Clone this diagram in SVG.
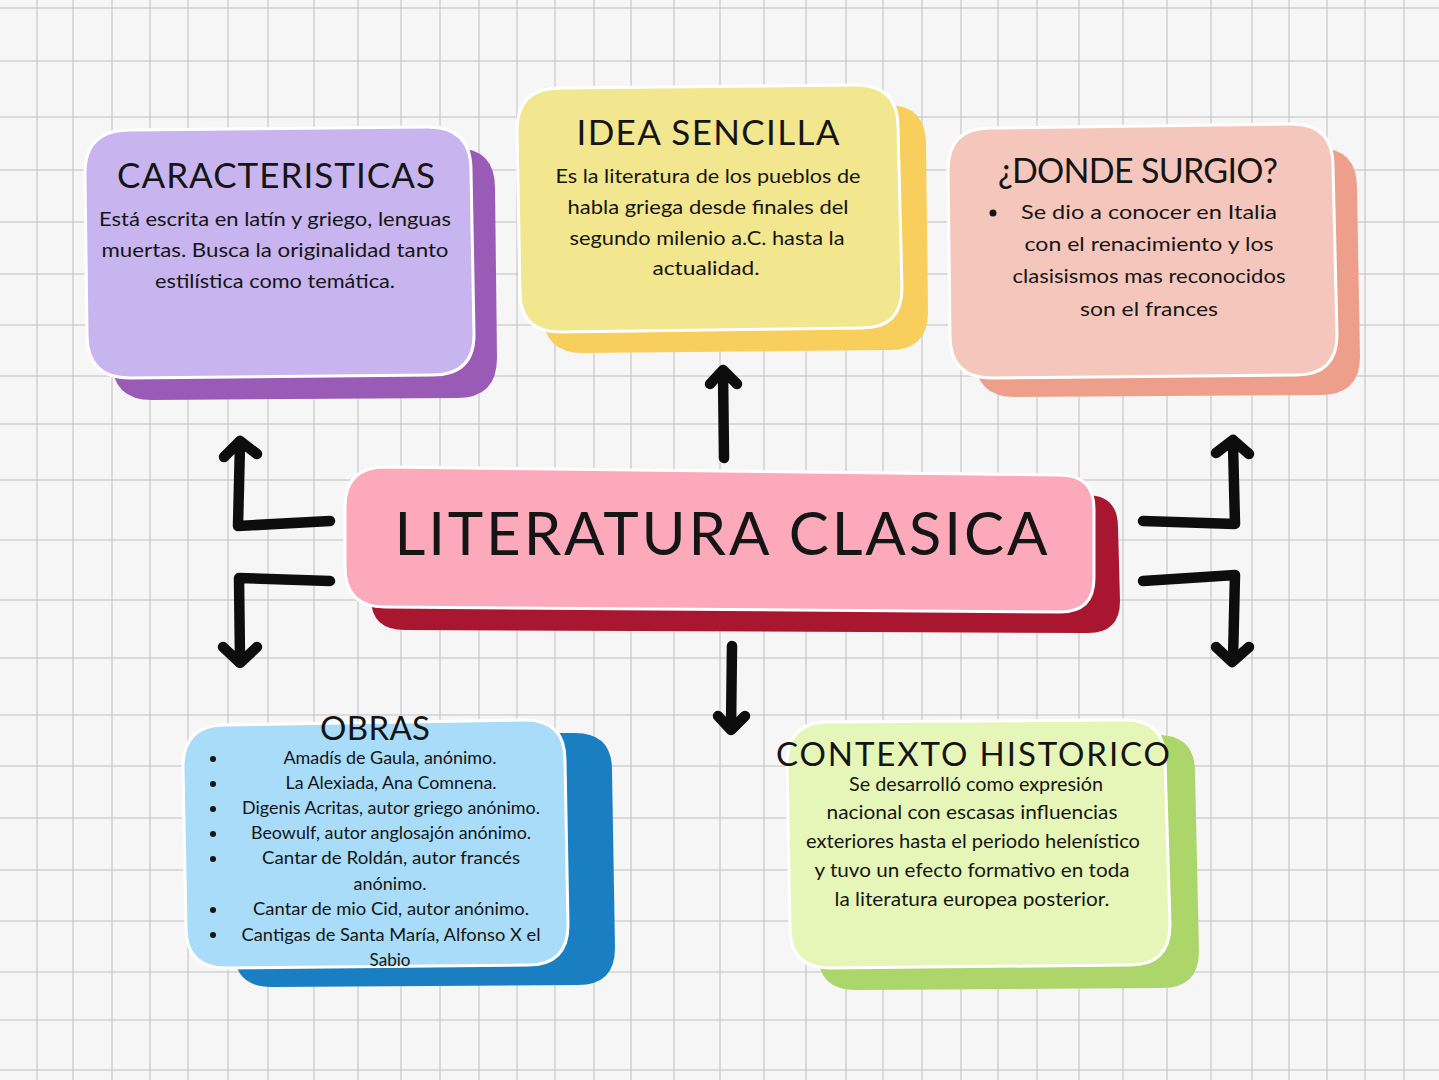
<svg xmlns="http://www.w3.org/2000/svg" width="1439" height="1080" viewBox="0 0 1439 1080">
<defs>
<style>
.grid{stroke:#c8c8c8;stroke-width:1.2;fill:none}
.front{stroke:#ffffff;stroke-width:3}
.head{font-family:"Lato","Open Sans",sans-serif;font-weight:400;fill:#151515;text-anchor:middle}
.body{font-family:"Lato","Open Sans",sans-serif;font-size:19px;fill:#151515;text-anchor:middle}
.obras{font-family:"Lato","Open Sans",sans-serif;font-size:16.5px;fill:#151515;text-anchor:middle}
.arrow{fill:none;stroke:#0d0d0d;stroke-width:10.5;stroke-linecap:round;stroke-linejoin:round}
</style>
</defs>
<rect width="1439" height="1080" fill="#f6f6f6"/>
<path class="grid" d="M37 0V1080M73 0V1080M112 0V1080M150 0V1080M188 0V1080M228 0V1080M268 0V1080M314 0V1080M358 0V1080M401 0V1080M440 0V1080M479 0V1080M517 0V1080M555 0V1080M594 0V1080M631 0V1080M674 0V1080M720 0V1080M764 0V1080M806 0V1080M846 0V1080M883 0V1080M922 0V1080M961 0V1080M998 0V1080M1037 0V1080M1079 0V1080M1123 0V1080M1167 0V1080M1211 0V1080M1252 0V1080M1289 0V1080M1327 0V1080M1365 0V1080M1404 0V1080"/>
<path class="grid" d="M0 8H1439M0 61H1439M0 117H1439M0 170H1439M0 222H1439M0 274H1439M0 325H1439M0 376H1439M0 424H1439M0 480H1439M0 540H1439M0 600H1439M0 658H1439M0 715H1439M0 766H1439M0 818H1439M0 870H1439M0 921H1439M0 972H1439M0 1020H1439M0 1070H1439" style="stroke:#c0c0c0"/>

<g id="connectors">
<path class="arrow" d="M724 458 L723 372 M710 384 L723 370 L737 384"/>
<path class="arrow" d="M732 646 L731 728 M718 716 L731 730 L745 716"/>
<path class="arrow" d="M330 521 L238 526 L240 444 M224 457 L240 441 L257 454"/>
<path class="arrow" d="M330 581 L239 578 L240 660 M223 647 L240 663 L257 647"/>
<path class="arrow" d="M1143 521 L1235 524 L1233 444 M1216 453 L1233 440 L1249 454"/>
<path class="arrow" d="M1143 581 L1235 575 L1233 659 M1216 647 L1232 662 L1249 647"/>
</g>

<g id="caracteristicas">
<path fill="#9a5bb7" d="M150 150 L455 148 Q495 148 495 188 L497 358 Q497 398 457 398 L152 400 Q112 400 112 360 L110 190 Q110 150 150 150 Z"/>
<path class="front" fill="#c8b4ee" d="M130 130 L428 127 Q471 127 471 170 L474 335 Q474 375 432 375 L130 378 Q87 378 87 335 L85 173 Q85 130 130 130 Z"/>
<text class="head" x="276" y="188" font-size="35" textLength="318" lengthAdjust="spacing">CARACTERISTICAS</text>
<text class="body" x="275" y="226" textLength="352" lengthAdjust="spacingAndGlyphs">Está escrita en latín y griego, lenguas</text>
<text class="body" x="275" y="257" textLength="347" lengthAdjust="spacingAndGlyphs">muertas. Busca la originalidad tanto</text>
<text class="body" x="275" y="288" textLength="240" lengthAdjust="spacingAndGlyphs">estilística como temática.</text>
</g>

<g id="idea-sencilla">
<path fill="#f8cf5c" d="M585 110 L888 105 Q926 105 926 145 L928 312 Q928 350 890 350 L583 353 Q543 353 543 313 L545 150 Q545 110 585 110 Z"/>
<path class="front" fill="#f2e68e" d="M560 88 L856 85 Q898 85 898 127 L902 288 Q902 328 862 328 L560 332 Q520 332 520 292 L517 130 Q517 88 560 88 Z"/>
<text class="head" x="708" y="145" font-size="35" textLength="263" lengthAdjust="spacing">IDEA SENCILLA</text>
<text class="body" x="708" y="183" textLength="305" lengthAdjust="spacingAndGlyphs">Es la literatura de los pueblos de</text>
<text class="body" x="708" y="214" textLength="281" lengthAdjust="spacingAndGlyphs">habla griega desde finales del</text>
<text class="body" x="707" y="245" textLength="275" lengthAdjust="spacingAndGlyphs">segundo milenio a.C. hasta la</text>
<text class="body" x="706" y="275" textLength="107" lengthAdjust="spacingAndGlyphs">actualidad.</text>
</g>

<g id="donde-surgio">
<path fill="#ee9f8c" d="M1015 150 L1318 148 Q1357 148 1357 188 L1360 357 Q1360 395 1320 395 L1015 397 Q975 397 975 357 L975 190 Q975 150 1015 150 Z"/>
<path class="front" fill="#f5c7bc" d="M990 128 L1292 124 Q1333 124 1333 166 L1337 335 Q1337 375 1296 375 L992 378 Q950 378 950 336 L948 170 Q948 128 990 128 Z"/>
<text class="head" x="1138" y="183" font-size="34" textLength="280" lengthAdjust="spacing">¿DONDE SURGIO?</text>
<circle cx="993" cy="213" r="3.5" fill="#151515"/>
<text class="body" x="1149" y="219" textLength="256" lengthAdjust="spacingAndGlyphs">Se dio a conocer en Italia</text>
<text class="body" x="1149" y="251" textLength="249" lengthAdjust="spacingAndGlyphs">con el renacimiento y los</text>
<text class="body" x="1149" y="283" textLength="273" lengthAdjust="spacingAndGlyphs">clasisismos mas reconocidos</text>
<text class="body" x="1149" y="316" textLength="138" lengthAdjust="spacingAndGlyphs">son el frances</text>
</g>

<g id="literatura-clasica">
<path fill="#a8172f" d="M406 495 L1086 495 Q1118 495 1118 527 L1120 601 Q1120 633 1088 633 L405 630 Q371 630 371 598 L371 527 Q371 495 406 495 Z"/>
<path class="front" fill="#fca9bb" d="M385 467 L1060 475 Q1094 475 1094 509 L1094 578 Q1094 612 1060 612 L385 607 Q345 607 345 567 L345 507 Q345 467 385 467 Z"/>
<text class="head" x="721" y="555" font-size="60" textLength="653" lengthAdjust="spacing">LITERATURA CLASICA</text>
</g>

<g id="obras">
<path fill="#1a7fc2" d="M272 733 L575 733 Q612 733 612 770 L615 948 Q615 985 578 985 L272 987 Q234 987 234 950 L232 770 Q232 733 272 733 Z"/>
<path class="front" fill="#a8dcf8" d="M225 725 L525 720 Q565 720 565 760 L568 925 Q568 965 528 965 L226 968 Q186 968 186 928 L183 767 Q183 725 225 725 Z"/>
<text class="head" x="375" y="740" font-size="33" textLength="110" lengthAdjust="spacing">OBRAS</text>
<g fill="#151515">
<circle cx="213" cy="759" r="3"/><circle cx="213" cy="784" r="3"/><circle cx="213" cy="809" r="3"/><circle cx="213" cy="834" r="3"/><circle cx="213" cy="859" r="3"/><circle cx="213" cy="910" r="3"/><circle cx="213" cy="935" r="3"/>
</g>
<text class="obras" x="390" y="764" textLength="213" lengthAdjust="spacingAndGlyphs">Amadís de Gaula, anónimo.</text>
<text class="obras" x="391" y="789" textLength="211" lengthAdjust="spacingAndGlyphs">La Alexiada, Ana Comnena.</text>
<text class="obras" x="391" y="814" textLength="298" lengthAdjust="spacingAndGlyphs">Digenis Acritas, autor griego anónimo.</text>
<text class="obras" x="391" y="839" textLength="280" lengthAdjust="spacingAndGlyphs">Beowulf, autor anglosajón anónimo.</text>
<text class="obras" x="391" y="864" textLength="258" lengthAdjust="spacingAndGlyphs">Cantar de Roldán, autor francés</text>
<text class="obras" x="390" y="890" textLength="73" lengthAdjust="spacingAndGlyphs">anónimo.</text>
<text class="obras" x="391" y="915" textLength="276" lengthAdjust="spacingAndGlyphs">Cantar de mio Cid, autor anónimo.</text>
<text class="obras" x="391" y="941" textLength="299" lengthAdjust="spacingAndGlyphs">Cantigas de Santa María, Alfonso X el</text>
<text class="obras" x="390" y="966" textLength="41" lengthAdjust="spacingAndGlyphs">Sabio</text>
</g>

<g id="contexto-historico">
<path fill="#acd66a" d="M855 735 L1158 735 Q1195 735 1195 772 L1199 951 Q1199 988 1162 988 L856 990 Q818 990 818 953 L815 772 Q815 735 855 735 Z"/>
<path class="front" fill="#e6f6b8" d="M828 722 L1125 720 Q1165 720 1165 760 L1170 925 Q1170 965 1130 965 L830 968 Q790 968 790 928 L787 764 Q787 722 828 722 Z"/>
<text class="head" x="973" y="766" font-size="33" textLength="394" lengthAdjust="spacing">CONTEXTO HISTORICO</text>
<text class="body" x="976" y="791" textLength="254" lengthAdjust="spacingAndGlyphs">Se desarrolló como expresión</text>
<text class="body" x="972" y="819" textLength="291" lengthAdjust="spacingAndGlyphs">nacional con escasas influencias</text>
<text class="body" x="973" y="848" textLength="334" lengthAdjust="spacingAndGlyphs">exteriores hasta el periodo helenístico</text>
<text class="body" x="972" y="877" textLength="315" lengthAdjust="spacingAndGlyphs">y tuvo un efecto formativo en toda</text>
<text class="body" x="972" y="906" textLength="275" lengthAdjust="spacingAndGlyphs">la literatura europea posterior.</text>
</g>
</svg>
